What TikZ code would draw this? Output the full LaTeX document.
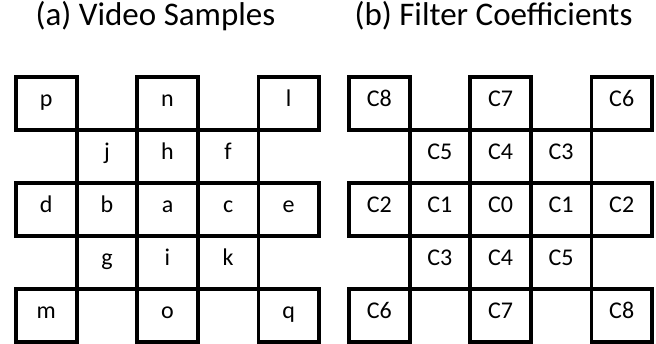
\documentclass[tikz,border=0pt]{standalone}
\usepackage{fontspec}
\setmainfont{Carlito}
\usetikzlibrary{positioning}

\begin{document}
\begin{tikzpicture}[
    x=1pt, y=-1pt,
    cell/.style={draw, line width=3.8pt, minimum width=60.6pt, minimum height=53pt,
      inner sep=0pt, text height=0.63em, text depth=0pt, font=\fontsize{24}{26}\selectfont},
    caption/.style={inner sep=0pt, text height=0.63em, text depth=0pt, font=\fontsize{33}{36}\selectfont}
  ]
    \useasboundingbox (0,0) rectangle (656,343);

    % (a) samples around the current pixel a
    \node[caption] (titleA) at (155.5,22.5) {(a) Video Samples};
    \node[cell] (sp) at (46.3,103.5)  {p};
    \node[cell] (sn) at (167.5,103.5) {n};
    \node[cell] (sl) at (288.7,103.5) {l};
    \node[cell] (sj) at (106.9,156.5) {j};
    \node[cell] (sh) at (167.5,156.5) {h};
    \node[cell] (sf) at (228.1,156.5) {f};
    \node[cell] (sd) at (46.3,209.5)  {d};
    \node[cell] (sb) at (106.9,209.5) {b};
    \node[cell] (sa) at (167.5,209.5) {a};
    \node[cell] (sc) at (228.1,209.5) {c};
    \node[cell] (se) at (288.7,209.5) {e};
    \node[cell] (sg) at (106.9,262.5) {g};
    \node[cell] (si) at (167.5,262.5) {i};
    \node[cell] (sk) at (228.1,262.5) {k};
    \node[cell] (sm) at (46.3,315.5)  {m};
    \node[cell] (so) at (167.5,315.5) {o};
    \node[cell] (sq) at (288.7,315.5) {q};

    % (b) point-symmetric coefficients
    \node[caption] (titleB) at (493.5,22.5) {(b) Filter Coefficients};
    \node[cell] (cp) at (379.3,103.5) {C8};
    \node[cell] (cn) at (500.5,103.5) {C7};
    \node[cell] (cl) at (621.7,103.5) {C6};
    \node[cell] (cj) at (439.9,156.5) {C5};
    \node[cell] (ch) at (500.5,156.5) {C4};
    \node[cell] (cf) at (561.1,156.5) {C3};
    \node[cell] (cd) at (379.3,209.5) {C2};
    \node[cell] (cb) at (439.9,209.5) {C1};
    \node[cell] (ca) at (500.5,209.5) {C0};
    \node[cell] (cc) at (561.1,209.5) {C1};
    \node[cell] (ce) at (621.7,209.5) {C2};
    \node[cell] (cg) at (439.9,262.5) {C3};
    \node[cell] (ci) at (500.5,262.5) {C4};
    \node[cell] (ck) at (561.1,262.5) {C5};
    \node[cell] (cm) at (379.3,315.5) {C6};
    \node[cell] (co) at (500.5,315.5) {C7};
    \node[cell] (cq) at (621.7,315.5) {C8};
\end{tikzpicture}
\end{document}
